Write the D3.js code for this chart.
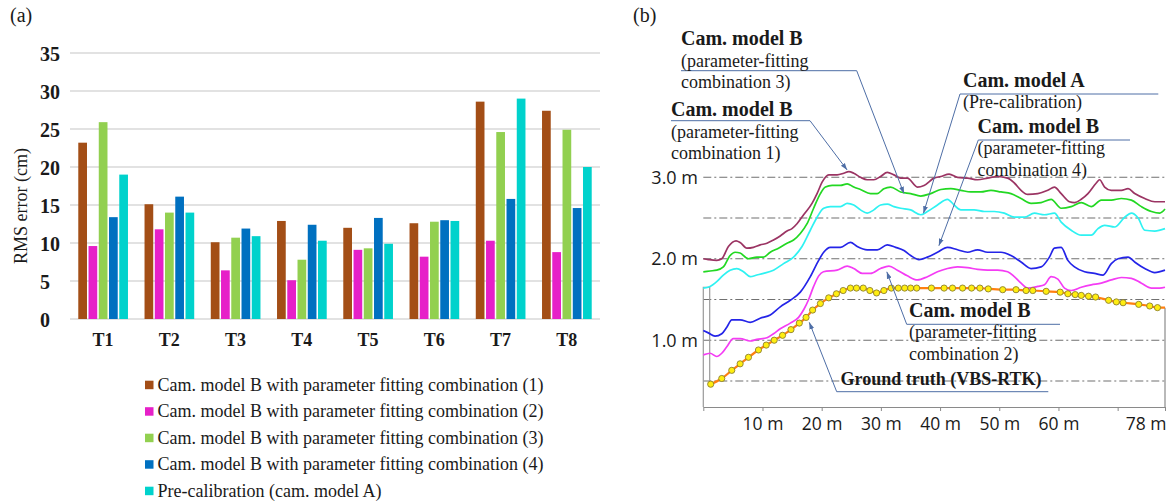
<!DOCTYPE html>
<html>
<head>
<meta charset="utf-8">
<script src="https://cdn.jsdelivr.net/npm/d3@7"></script>
<style>
  html, body { margin: 0; padding: 0; background: #fff; }
  svg { display: block; }
</style>
</head>
<body>
<svg id="fig" width="1168" height="503"></svg>
<script>
// ---------- Panel (a): RMS error per test section ----------
const sections = ["T1", "T2", "T3", "T4", "T5", "T6", "T7", "T8"];
const seriesNames = [
  "Cam. model B with parameter fitting combination (1)",
  "Cam. model B with parameter fitting combination (2)",
  "Cam. model B with parameter fitting combination (3)",
  "Cam. model B with parameter fitting combination (4)",
  "Pre-calibration (cam. model A)"
];
const comb1Rms  = [23.2, 15.1, 10.1, 12.9, 12.0, 12.6, 28.6, 27.4];
const comb2Rms  = [9.6, 11.8, 6.4, 5.1, 9.1, 8.2, 10.3, 8.8];
const comb3Rms  = [25.9, 14.0, 10.7, 7.8, 9.3, 12.8, 24.6, 24.9];
const comb4Rms  = [13.4, 16.1, 11.9, 12.4, 13.3, 13.0, 15.8, 14.6];
const preCalRms = [19.0, 14.0, 10.9, 10.3, 9.9, 12.9, 29.0, 20.0];
const rmsTicks = [0, 5, 10, 15, 20, 25, 30, 35];
const barColors = ["#A34E16", "#E620C8", "#92D050", "#0070C0", "#00D2CC"];

// ---------- Panel (b): height profiles along the track (m) ----------
const comb1Profile = [[0,2.00],[0.85,1.99],[2.27,1.98],[3.12,2.00],[4.24,2.15],[5.54,2.22],[6.22,2.20],[7.36,2.13],[8.47,2.14],[9.61,2.17],[10.75,2.19],[11.86,2.23],[13.0,2.28],[14.14,2.34],[14.98,2.37],[15.83,2.43],[16.95,2.54],[18.37,2.68],[19.22,2.80],[20.07,2.94],[21.19,3.03],[22.61,3.03],[23.73,3.05],[24.58,3.07],[25.42,3.05],[26.56,3.00],[27.69,2.97],[28.81,2.97],[29.95,3.01],[31.08,3.06],[32.2,3.03],[33.34,2.99],[34.47,2.99],[36.17,2.88],[37.29,2.90],[38.98,2.99],[40.12,3.01],[41.53,3.04],[42.95,3.00],[44.64,2.99],[46.34,2.97],[48.03,2.99],[49.73,3.01],[51.42,2.99],[52.54,2.93],[53.68,2.84],[54.81,2.79],[56.51,2.80],[58.20,2.84],[59.32,2.88],[60.46,2.80],[61.86,2.70],[62.71,2.69],[63.85,2.73],[64.98,2.80],[66.39,2.93],[66.95,2.97],[67.80,2.88],[68.93,2.84],[70.63,2.84],[71.76,2.86],[72.88,2.80],[74.58,2.74],[76.27,2.70],[78,2.70]];
const comb3Profile = [[0,1.84],[1.14,1.85],[2.27,1.86],[3.39,1.90],[4.53,2.04],[5.37,2.08],[6.22,2.07],[7.63,2.00],[9.05,2.02],[10.17,2.02],[11.31,2.08],[12.71,2.13],[14.14,2.19],[15.25,2.23],[16.39,2.31],[17.53,2.43],[18.64,2.62],[19.78,2.80],[20.63,2.88],[21.76,2.90],[23.17,2.90],[24.31,2.92],[25.42,2.88],[26.56,2.85],[28.25,2.80],[29.39,2.80],[30.51,2.86],[31.64,2.88],[33.34,2.82],[35.03,2.80],[36.73,2.77],[38.42,2.80],[40.12,2.85],[41.81,2.86],[43.51,2.84],[45.20,2.82],[46.90,2.82],[48.59,2.84],[50.29,2.82],[51.98,2.80],[53.68,2.74],[55.37,2.68],[57.07,2.69],[58.76,2.73],[60.46,2.62],[62.15,2.64],[63.85,2.69],[65.54,2.64],[67.24,2.72],[68.93,2.72],[70.63,2.74],[72.32,2.72],[74.02,2.64],[75.71,2.58],[77.12,2.56],[78,2.61]];
const preCalProfile = [[0,1.64],[1.14,1.66],[2.27,1.72],[3.39,1.80],[4.53,1.86],[5.66,1.88],[6.78,1.84],[7.92,1.78],[9.05,1.80],[10.17,1.82],[11.86,1.86],[13.56,1.94],[15.25,2.02],[16.68,2.15],[18.08,2.35],[19.22,2.51],[20.34,2.62],[21.47,2.64],[23.17,2.64],[24.31,2.68],[25.42,2.66],[26.56,2.60],[27.69,2.56],[28.81,2.60],[29.95,2.66],[31.08,2.67],[32.2,2.64],[33.34,2.62],[35.03,2.60],[36.73,2.54],[37.86,2.58],[39.56,2.66],[41.25,2.73],[42.37,2.66],[43.51,2.60],[45.76,2.60],[47.46,2.58],[49.15,2.58],[50.85,2.56],[52.54,2.51],[54.24,2.51],[55.93,2.56],[57.63,2.54],[59.32,2.56],[60.46,2.45],[62.15,2.35],[63.85,2.29],[65.54,2.29],[66.68,2.37],[67.80,2.41],[69.49,2.39],[71.19,2.51],[72.32,2.56],[73.46,2.50],[74.58,2.35],[76.27,2.34],[78,2.37]];
const comb4Profile = [[0,1.12],[0.85,1.09],[1.98,1.05],[3.12,1.08],[3.97,1.16],[4.81,1.25],[6.22,1.25],[7.92,1.22],[9.61,1.27],[11.31,1.31],[13.0,1.41],[14.69,1.49],[16.39,1.59],[18.08,1.78],[19.49,1.98],[20.34,2.08],[21.47,2.14],[23.17,2.14],[24.86,2.20],[26.0,2.15],[27.69,2.11],[29.39,2.11],[31.08,2.17],[32.5,2.14],[33.9,2.10],[35.03,2.04],[36.44,1.99],[37.86,2.02],[39.56,2.08],[41.25,2.14],[42.95,2.11],[44.64,2.08],[46.34,2.11],[48.03,2.08],[50.29,2.08],[51.98,2.04],[53.68,1.96],[55.37,1.88],[57.07,1.90],[58.47,2.02],[59.32,2.13],[60.46,2.14],[61.59,1.98],[62.71,1.90],[64.41,1.84],[66.10,1.82],[67.53,1.80],[68.93,1.94],[70.07,2.00],[71.76,2.02],[72.88,1.96],[74.58,1.88],[76.27,1.83],[78,1.86]];
const comb2Profile = [[0,0.82],[1.14,0.84],[2.27,0.80],[3.12,0.84],[3.97,0.92],[5.08,1.02],[6.22,1.02],[7.92,0.99],[9.05,1.01],[10.75,1.03],[11.86,1.08],[13.0,1.14],[14.69,1.21],[16.10,1.28],[17.0,1.38],[17.8,1.50],[18.64,1.66],[19.5,1.79],[20.3,1.84],[22.61,1.86],[24.31,1.91],[25.42,1.88],[26.85,1.82],[28.25,1.82],[29.95,1.88],[31.36,1.91],[32.78,1.86],[34.47,1.79],[36.17,1.74],[37.86,1.78],[39.56,1.84],[41.25,1.88],[42.95,1.90],[44.64,1.89],[46.34,1.87],[48.03,1.86],[49.73,1.86],[51.42,1.84],[52.54,1.78],[53.68,1.70],[54.81,1.64],[56.51,1.66],[57.63,1.68],[58.76,1.78],[59.90,1.75],[61.02,1.64],[62.15,1.61],[63.85,1.65],[65.54,1.68],[67.24,1.70],[68.93,1.74],[70.63,1.77],[72.32,1.76],[74.02,1.70],[75.71,1.64],[77.12,1.64],[78,1.65]];
const groundTruth = [[1.25,0.46],[3.12,0.53],[4.81,0.63],[6.22,0.71],[7.63,0.79],[9.32,0.88],[10.63,0.94],[11.98,1.00],[13.39,1.06],[14.81,1.13],[16.22,1.21],[17.36,1.28],[18.47,1.37],[19.78,1.45],[21.19,1.52],[22.49,1.57],[23.63,1.61],[24.86,1.64],[25.88,1.64],[27.02,1.64],[28.14,1.61],[29.27,1.58],[30.51,1.61],[31.76,1.64],[32.95,1.64],[34.02,1.64],[35.03,1.64],[36.05,1.64],[38.54,1.64],[40.68,1.64],[42.10,1.64],[43.80,1.64],[45.32,1.64],[46.73,1.64],[48.14,1.63],[50.58,1.62],[52.83,1.62],[54.53,1.61],[55.66,1.61],[57.92,1.60],[60.29,1.59],[61.59,1.57],[62.83,1.56],[63.85,1.55],[65.08,1.54],[66.27,1.53],[68.47,1.49],[69.78,1.47],[70.92,1.46],[73.56,1.44],[75.42,1.42],[76.73,1.40]];
const groundTruthEnd = [78, 1.40];
const distTicks = [0, 10, 20, 30, 40, 50, 60, 70, 78];
const distTickLabels = ["", "10 m", "20 m", "30 m", "40 m", "50 m", "60 m", "", "78 m"];
const heightRefs = [0.5, 1.0, 1.5, 2.0, 2.5, 3.0];
const heightRefLabels = ["", "1.0 m", "", "2.0 m", "", "3.0 m"];

const SERIF = "'Liberation Serif', 'Times New Roman', serif";
const SANS = "'Open Sans', 'Noto Sans', sans-serif";
const INK = "#1a1a1a";

const svg = d3.select("#fig");
svg.append("rect").attr("width", 1168).attr("height", 503).attr("fill", "#fff");

// ===== Panel (a) =====
const xA = d3.scaleBand().domain(sections).range([70, 600]).paddingInner(0.25).paddingOuter(0.125);
const xSeries = d3.scaleBand().domain(d3.range(seriesNames.length)).range([0, xA.bandwidth()]).paddingInner(0.15);
const yA = d3.scaleLinear().domain([0, 35]).range([319, 53]);
const seriesRms = [comb1Rms, comb2Rms, comb3Rms, comb4Rms, preCalRms];

const gA = svg.append("g");
gA.append("text").attr("x", 10).attr("y", 22).attr("font-family", SERIF).attr("font-size", 20)
  .attr("fill", INK).text("(a)");

gA.selectAll("line.grid").data(rmsTicks).join("line")
  .attr("class", "grid")
  .attr("x1", 70).attr("x2", 600)
  .attr("y1", d => yA(d)).attr("y2", d => yA(d))
  .attr("stroke", "#d9d9d9").attr("stroke-width", 1.3);

gA.selectAll("text.ytick").data(rmsTicks).join("text")
  .attr("class", "ytick")
  .attr("x", 40).attr("y", d => yA(d) + 7.5)
  .attr("font-family", SERIF).attr("font-weight", "bold").attr("font-size", 20)
  .attr("fill", INK).text(d => d);

gA.append("text")
  .attr("transform", `translate(27,${(yA(0) + yA(35)) / 2 + 20}) rotate(-90)`)
  .attr("text-anchor", "middle").attr("font-family", SERIF).attr("font-size", 18)
  .attr("fill", INK).text("RMS error (cm)");

const barData = sections.flatMap((s, i) => seriesRms.map((arr, k) => ({ s, k, v: arr[i] })));
gA.selectAll("rect.bar").data(barData).join("rect")
  .attr("class", "bar")
  .attr("x", d => xA(d.s) + xSeries(d.k))
  .attr("width", xSeries.bandwidth())
  .attr("y", d => yA(d.v))
  .attr("height", d => yA(0) - yA(d.v))
  .attr("fill", d => barColors[d.k]);

gA.selectAll("text.xlab").data(sections).join("text")
  .attr("class", "xlab")
  .attr("x", d => xA(d) + xA.bandwidth() / 2).attr("y", 346)
  .attr("text-anchor", "middle").attr("font-family", SERIF).attr("font-weight", "bold")
  .attr("font-size", 18).attr("fill", INK).text(d => d);

const legend = gA.selectAll("g.leg").data(seriesNames).join("g")
  .attr("class", "leg")
  .attr("transform", (d, i) => `translate(145,${390.7 + i * 26.5})`);
legend.append("rect").attr("x", 0).attr("y", -10).attr("width", 8.5).attr("height", 8.5)
  .attr("fill", (d, i) => barColors[i]);
legend.append("text").attr("x", 12.5).attr("y", 0)
  .attr("font-family", SERIF).attr("font-size", 18).attr("fill", INK).text(d => d);

// ===== Panel (b) =====
const xB = d3.scaleLinear().domain([0, 78]).range([703.3, 1165]);
const yB = d3.scaleLinear().domain([0.18, 3]).range([407, 177.3]);
const gB = svg.append("g");

gB.append("text").attr("x", 633).attr("y", 22).attr("font-family", SERIF).attr("font-size", 20)
  .attr("fill", INK).text("(b)");

// dash-dot reference heights
gB.selectAll("line.ref").data(heightRefs).join("line")
  .attr("class", "ref")
  .attr("x1", xB(0)).attr("x2", xB(78) + 1)
  .attr("y1", d => yB(d)).attr("y2", d => yB(d))
  .attr("stroke", "#707070").attr("stroke-width", 1.1)
  .attr("stroke-dasharray", "8,3,2,3");

gB.selectAll("text.href").data(heightRefs).join("text")
  .attr("class", "href")
  .attr("x", 698).attr("y", d => yB(d) + 6.5)
  .attr("text-anchor", "end").attr("font-family", SANS).attr("font-size", 18)
  .attr("fill", INK).text((d, i) => heightRefLabels[i]);

// distance axis
const axisB = d3.axisBottom(xB).tickValues(distTicks).tickSize(4).tickSizeOuter(0)
  .tickFormat((d, i) => distTickLabels[i]);
const axG = gB.append("g").attr("transform", `translate(0,${yB(0.18)})`).call(axisB);
axG.select(".domain").attr("stroke", "#8a8a8a");
axG.selectAll(".tick line").attr("stroke", "#8a8a8a");
axG.selectAll(".tick text").attr("font-family", SANS).attr("font-size", 17.5)
  .attr("fill", INK).attr("dy", null).attr("y", 23);
axG.selectAll(".tick text").filter(d => d === 78).attr("text-anchor", "end").attr("x", 1);

// frame verticals at the start and end of the track
const frameTop = 1.65;
gB.append("path")
  .attr("d", `M${xB(0)},${yB(0.18)}V${yB(frameTop)}H${xB(groundTruth[0][0]) - 1}V${yB(groundTruth[0][1])}`)
  .attr("fill", "none").attr("stroke", "#9a9a9a").attr("stroke-width", 1.2);
gB.append("line")
  .attr("x1", xB(groundTruthEnd[0])).attr("x2", xB(groundTruthEnd[0]))
  .attr("y1", yB(groundTruthEnd[1])).attr("y2", yB(0.18))
  .attr("stroke", "#8a8a8a").attr("stroke-width", 1.2);

const profileLine = d3.line().x(d => xB(d[0])).y(d => yB(d[1])).curve(d3.curveMonotoneX);
const profiles = [
  { data: comb1Profile, color: "#9B3463" },
  { data: comb3Profile, color: "#22D822" },
  { data: preCalProfile, color: "#2EF2F2" },
  { data: comb4Profile, color: "#2424E8" },
  { data: comb2Profile, color: "#F43CF4" }
];
gB.selectAll("path.profile").data(profiles).join("path")
  .attr("class", "profile")
  .attr("d", d => profileLine(d.data))
  .attr("fill", "none").attr("stroke", d => d.color).attr("stroke-width", 1.7);

// ground truth
gB.append("path")
  .attr("d", profileLine(groundTruth.concat([groundTruthEnd])))
  .attr("fill", "none").attr("stroke", "#FF8010").attr("stroke-width", 2.2);
gB.selectAll("circle.gt").data(groundTruth).join("circle")
  .attr("class", "gt")
  .attr("cx", d => xB(d[0])).attr("cy", d => yB(d[1])).attr("r", 3.1)
  .attr("fill", "#FFEE10").attr("stroke", "#8C8030").attr("stroke-width", 0.9);

// callouts
const LEAD = "#4E6EA6";
svg.append("defs").append("marker")
  .attr("id", "arrowHead").attr("viewBox", "0 0 10 10")
  .attr("refX", 10).attr("refY", 5).attr("markerWidth", 7).attr("markerHeight", 7)
  .attr("orient", "auto")
  .append("path").attr("d", "M0,1.5L10,5L0,8.5Z").attr("fill", LEAD);

const callouts = [
  { lines: ["Cam. model B", "(parameter-fitting", "combination 3)"], x: 681, y: 45,
    rule: [681, 856.7, 70.7], from: 856.7, to: [33.9, 2.80] },
  { lines: ["Cam. model B", "(parameter-fitting", "combination 1)"], x: 671, y: 116,
    rule: [671, 810, 120.7], from: 810, to: [24.3, 3.09] },
  { lines: ["Cam. model A", "(Pre-calibration)"], x: 963, y: 86.7,
    rule: [960, 1158.3, 94], from: 960, to: [37.2, 2.56] },
  { lines: ["Cam. model B", "(parameter-fitting", "combination 4)"], x: 977.5, y: 132.7,
    rule: [978.3, 1130, 140], from: 978.3, to: [39.8, 2.16] },
  { lines: ["Cam. model B", "(parameter-fitting", "combination 2)"], x: 909, y: 316.7,
    rule: [906.7, 1060, 324.3], from: 906.7, to: [31.0, 1.84] },
  { lines: ["Ground truth (VBS-RTK)"], x: 840.5, y: 385, small: true,
    rule: [836.7, 1048.3, 391.7], from: 836.7, to: [17.9, 1.22] }
];

const cg = gB.selectAll("g.callout").data(callouts).join("g").attr("class", "callout");
cg.append("line")
  .attr("x1", d => d.rule[0]).attr("x2", d => d.rule[1])
  .attr("y1", d => d.rule[2]).attr("y2", d => d.rule[2])
  .attr("stroke", LEAD).attr("stroke-width", 1);
cg.append("line")
  .attr("x1", d => d.from).attr("y1", d => d.rule[2])
  .attr("x2", d => xB(d.to[0])).attr("y2", d => yB(d.to[1]))
  .attr("stroke", LEAD).attr("stroke-width", 1)
  .attr("marker-end", "url(#arrowHead)");
cg.each(function (d) {
  const g = d3.select(this);
  d.lines.forEach((t, i) => {
    g.append("text")
      .attr("x", d.x).attr("y", d.y + i * 21.5)
      .attr("font-family", SERIF)
      .attr("font-weight", i === 0 ? "bold" : "normal")
      .attr("font-size", i === 0 ? (d.small ? 18 : 20) : 18)
      .attr("fill", INK).text(t);
  });
});
</script>
</body>
</html>
